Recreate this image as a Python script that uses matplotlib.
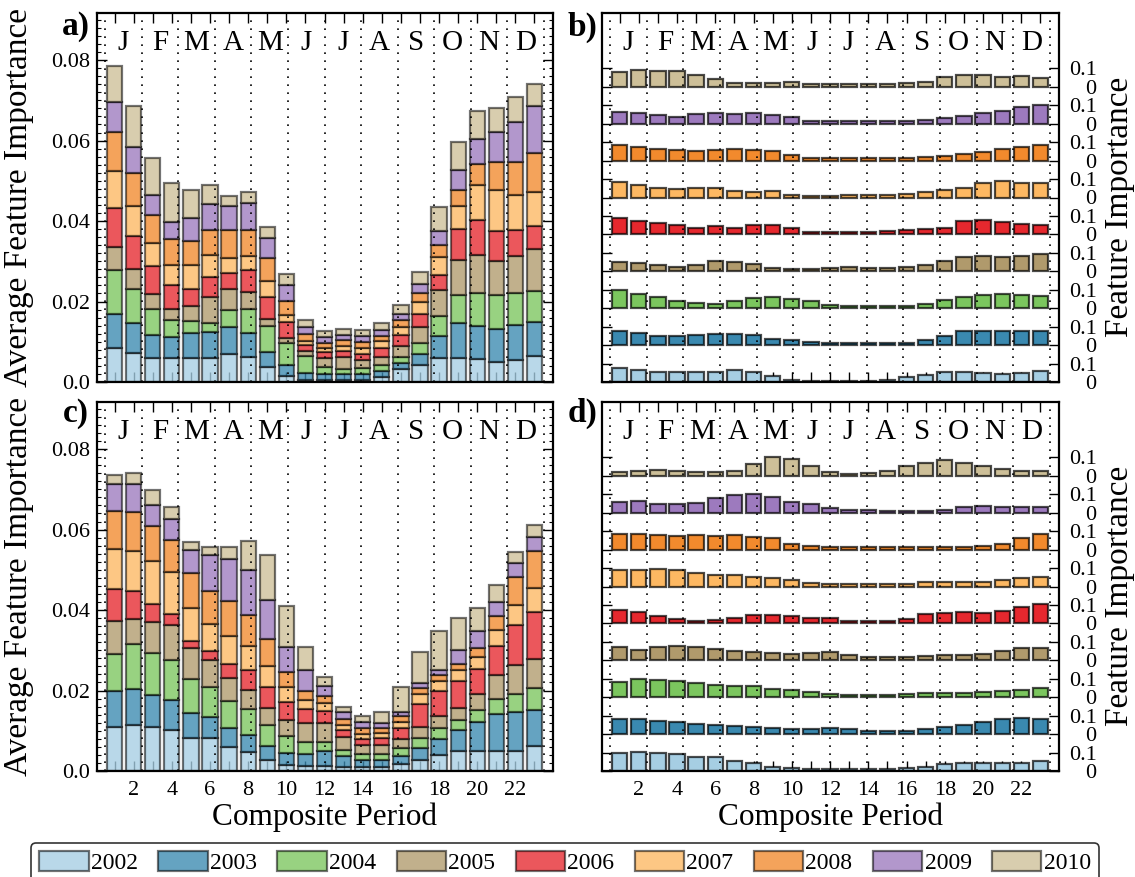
import numpy as np
import matplotlib
matplotlib.use("Agg")
import matplotlib.pyplot as plt
from matplotlib.colors import to_rgba
from matplotlib.ticker import FixedLocator, MultipleLocator, FixedFormatter

plt.rcParams['font.family'] = ['Liberation Serif', 'DejaVu Serif']

years = ['2002', '2003', '2004', '2005', '2006', '2007', '2008', '2009', '2010']
periods = np.arange(1, 24)
months = ['J', 'F', 'M', 'A', 'M', 'J', 'J', 'A', 'S', 'O', 'N', 'D']
colors = ['#a6cee3', '#3a89b0', '#7bc65e', '#b09a6c', '#e6282e',
          '#fdb862', '#f28a2d', '#9d7abe', '#cdbf98']

# Per-year feature importance, upper dataset (panels a, b)
top_2002 = [0.076, 0.064, 0.054, 0.054, 0.054, 0.054, 0.063, 0.056, 0.034, 0.013, 0.005, 0.004,
            0.004, 0.005, 0.011, 0.028, 0.037, 0.054, 0.054, 0.051, 0.045, 0.049, 0.058]
top_2003 = [0.077, 0.068, 0.051, 0.047, 0.056, 0.058, 0.060, 0.053, 0.034, 0.025, 0.016, 0.013,
            0.013, 0.013, 0.013, 0.014, 0.025, 0.049, 0.079, 0.074, 0.074, 0.079, 0.077]
top_2004 = [0.097, 0.075, 0.058, 0.037, 0.026, 0.021, 0.037, 0.054, 0.058, 0.049, 0.037, 0.016,
            0.013, 0.013, 0.013, 0.014, 0.025, 0.044, 0.062, 0.074, 0.075, 0.070, 0.068]
top_2005 = [0.052, 0.045, 0.034, 0.025, 0.035, 0.056, 0.049, 0.039, 0.016, 0.011, 0.011, 0.020,
            0.026, 0.018, 0.020, 0.025, 0.035, 0.058, 0.077, 0.084, 0.077, 0.083, 0.094]
top_2006 = [0.087, 0.075, 0.062, 0.053, 0.037, 0.045, 0.034, 0.049, 0.049, 0.037, 0.014, 0.013,
            0.013, 0.014, 0.018, 0.025, 0.030, 0.035, 0.070, 0.079, 0.066, 0.058, 0.052]
top_2007 = [0.084, 0.066, 0.051, 0.045, 0.054, 0.051, 0.035, 0.030, 0.034, 0.014, 0.009, 0.009,
            0.011, 0.013, 0.016, 0.018, 0.028, 0.040, 0.051, 0.079, 0.092, 0.079, 0.077]
top_2008 = [0.087, 0.075, 0.063, 0.058, 0.054, 0.056, 0.063, 0.060, 0.053, 0.032, 0.016, 0.013,
            0.013, 0.013, 0.013, 0.014, 0.018, 0.026, 0.037, 0.047, 0.062, 0.074, 0.087]
top_2009 = [0.066, 0.058, 0.045, 0.039, 0.051, 0.056, 0.053, 0.060, 0.045, 0.035, 0.016, 0.013,
            0.013, 0.013, 0.013, 0.014, 0.021, 0.032, 0.044, 0.056, 0.068, 0.090, 0.104]
top_2010 = [0.081, 0.092, 0.084, 0.086, 0.062, 0.044, 0.023, 0.023, 0.023, 0.026, 0.014, 0.014,
            0.013, 0.014, 0.016, 0.021, 0.028, 0.053, 0.063, 0.062, 0.053, 0.056, 0.049]

# Per-year feature importance, lower dataset (panels c, d)
bot_2002 = [0.099, 0.103, 0.098, 0.092, 0.074, 0.074, 0.054, 0.042, 0.024, 0.014, 0.011, 0.011,
            0.009, 0.009, 0.009, 0.016, 0.024, 0.036, 0.045, 0.045, 0.045, 0.045, 0.056]
bot_2003 = [0.081, 0.081, 0.072, 0.067, 0.056, 0.047, 0.042, 0.038, 0.031, 0.027, 0.027, 0.034,
            0.025, 0.016, 0.016, 0.018, 0.027, 0.036, 0.047, 0.065, 0.083, 0.087, 0.080]
bot_2004 = [0.081, 0.101, 0.094, 0.090, 0.076, 0.067, 0.061, 0.058, 0.047, 0.038, 0.027, 0.020,
            0.014, 0.013, 0.014, 0.018, 0.022, 0.024, 0.022, 0.027, 0.034, 0.040, 0.049]
bot_2005 = [0.074, 0.056, 0.070, 0.078, 0.070, 0.060, 0.052, 0.043, 0.038, 0.034, 0.042, 0.043,
            0.029, 0.020, 0.020, 0.020, 0.025, 0.027, 0.027, 0.036, 0.052, 0.065, 0.065]
bot_2006 = [0.072, 0.061, 0.040, 0.025, 0.014, 0.020, 0.031, 0.045, 0.047, 0.042, 0.031, 0.027,
            0.014, 0.014, 0.014, 0.024, 0.051, 0.056, 0.060, 0.056, 0.065, 0.089, 0.105]
bot_2007 = [0.090, 0.090, 0.096, 0.092, 0.074, 0.061, 0.063, 0.054, 0.047, 0.033, 0.020, 0.016,
            0.013, 0.011, 0.011, 0.013, 0.024, 0.022, 0.024, 0.027, 0.036, 0.045, 0.054]
bot_2008 = [0.085, 0.087, 0.078, 0.072, 0.078, 0.074, 0.078, 0.069, 0.061, 0.033, 0.020, 0.016,
            0.013, 0.013, 0.013, 0.013, 0.013, 0.013, 0.014, 0.020, 0.031, 0.063, 0.083]
bot_2009 = [0.060, 0.063, 0.047, 0.047, 0.052, 0.080, 0.094, 0.101, 0.087, 0.056, 0.049, 0.024,
            0.016, 0.013, 0.011, 0.011, 0.011, 0.013, 0.031, 0.038, 0.031, 0.031, 0.031]
bot_2010 = [0.020, 0.024, 0.033, 0.027, 0.018, 0.018, 0.027, 0.065, 0.101, 0.092, 0.051, 0.020,
            0.011, 0.014, 0.024, 0.054, 0.069, 0.087, 0.072, 0.051, 0.038, 0.024, 0.027]

top_data = [top_2002, top_2003, top_2004, top_2005, top_2006, top_2007, top_2008, top_2009, top_2010]
bot_data = [bot_2002, bot_2003, bot_2004, bot_2005, bot_2006, bot_2007, bot_2008, bot_2009, bot_2010]

row_step = 0.2
W, H = 1135, 877
fig = plt.figure(figsize=(W / 100, H / 100), dpi=100)


def ax_rect(x0, y0, x1, y1):
    return [x0 / W, 1 - y1 / H, (x1 - x0) / W, (y1 - y0) / H]


ax_a = fig.add_axes(ax_rect(97, 13, 553, 382))
ax_b = fig.add_axes(ax_rect(602, 13, 1059, 382))
ax_c = fig.add_axes(ax_rect(97, 402, 553, 771))
ax_d = fig.add_axes(ax_rect(602, 402, 1059, 771))

light = [to_rgba(c, 0.78) for c in colors]
edge_light = (0, 0, 0, 0.55)
edge_dark = (0, 0, 0, 0.7)


def common(ax, show_x):
    ax.set_xlim(0.08, 23.97)
    nb = 23 / 12
    for k in range(13):
        ax.axvline(0.5 + k * nb, color='k', ls=(0, (1, 3.8)), lw=1.2, zorder=3)
    for k, m in enumerate(months):
        ax.text(0.5 + (k + 0.5) * nb, 0.92, m, transform=ax.get_xaxis_transform(),
                ha='center', va='center', fontsize=21)
    ax.set_xticks(periods)
    if show_x:
        ax.set_xticklabels([str(p) if p % 2 == 0 else '' for p in periods], fontsize=16)
        ax.set_xlabel('Composite Period', fontsize=22.5, labelpad=2)
    else:
        ax.set_xticklabels([])
    ax.tick_params(axis='x', which='both', direction='in', top=True, bottom=True,
                   length=7, width=1, pad=7)
    for s in ax.spines.values():
        s.set_linewidth(1.6)


def stacked(ax, data, show_x):
    base = np.zeros(len(periods))
    n = len(data)
    for i, vals in enumerate(data):
        avg = np.array(vals) / n
        ax.bar(periods, avg, 0.8, bottom=base, facecolor=light[i], edgecolor=edge_light,
               linewidth=1.6, zorder=2, label=years[i])
        base = base + avg
    ax.set_ylim(0, 0.0917)
    ax.yaxis.set_major_locator(FixedLocator([0, 0.02, 0.04, 0.06, 0.08]))
    ax.yaxis.set_major_formatter(FixedFormatter(['0.0', '0.02', '0.04', '0.06', '0.08']))
    ax.yaxis.set_minor_locator(MultipleLocator(0.002))
    ax.tick_params(axis='y', which='major', direction='in', left=True, right=True,
                   length=7, width=1, labelsize=16, pad=5)
    ax.tick_params(axis='y', which='minor', direction='in', left=True, right=True,
                   length=3, width=0.8)
    ax.set_ylabel('Average Feature Importance', fontsize=24)
    ax.yaxis.set_label_coords(-0.138, 0.5)
    common(ax, show_x)


def rows(ax, data, show_x, label_y):
    for k, vals in enumerate(data):
        ax.bar(periods, vals, 0.8, bottom=k * row_step, facecolor=colors[k],
               edgecolor=edge_dark, linewidth=1.6, zorder=2)
    ax.set_ylim(0, 2.0)
    tks, lbls = [], []
    for k in range(len(data)):
        tks += [k * row_step, k * row_step + 0.1]
        lbls += ['0', '0.1']
    ax.yaxis.set_major_locator(FixedLocator(tks))
    ax.yaxis.set_major_formatter(FixedFormatter(lbls))
    ax.yaxis.tick_right()
    ax.tick_params(axis='y', which='major', direction='in', left=True, right=True,
                   labelleft=False, labelright=True, length=7, width=1, labelsize=16, pad=27)
    for t in ax.get_yticklabels():
        t.set_horizontalalignment('right')
    fig.text(1120 / W, 1 - label_y / H, 'Feature Importance', fontsize=24, rotation=90,
             ha='center', va='center')
    common(ax, show_x)


stacked(ax_a, top_data, False)
rows(ax_b, top_data, False, 207)
stacked(ax_c, bot_data, True)
rows(ax_d, bot_data, True, 596)

for lbl, x, y in [('a)', 76, 27), ('b)', 583, 27), ('c)', 76, 413), ('d)', 583, 413)]:
    fig.text(x / W, 1 - y / H, lbl, ha='center', va='center', fontsize=24, fontweight='bold')

handles, labels = ax_a.get_legend_handles_labels()
leg = fig.legend(handles, labels, loc='upper center', bbox_to_anchor=(565 / W, 1 - 843 / H),
                 ncol=9, fontsize=17, handlelength=2.1, handleheight=0.9, handletextpad=0.1,
                 columnspacing=0.85, frameon=True, fancybox=True, borderpad=0.35,
                 borderaxespad=0)
leg.get_frame().set_edgecolor('k')
leg.get_frame().set_linewidth(1.2)

fig.savefig('out.png', dpi=100)
